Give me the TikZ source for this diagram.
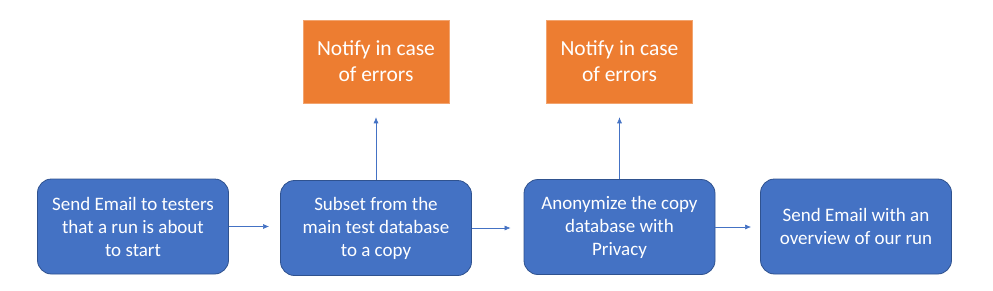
\documentclass[tikz,border=0pt]{standalone}
\usepackage{fontspec}
\setmainfont{Carlito}
\usetikzlibrary{arrows.meta}

\definecolor{stepblue}{HTML}{4472C4}
\definecolor{stepedge}{HTML}{2F528F}
\definecolor{noteorange}{HTML}{ED7D31}

\begin{document}
\begin{tikzpicture}[x=1pt, y=1pt,
  stepbox/.style={draw=stepedge, fill=stepblue, line width=0.8pt, rounded corners=14pt,
    minimum width=191pt, minimum height=95pt, align=center, text=white,
    font=\fontsize{19}{23}\selectfont},
  notebox/.style={fill=noteorange, draw=noteorange!70!white, line width=0.5pt,
    minimum width=146pt, minimum height=83pt, align=center, text=white,
    font=\fontsize{21.5}{26}\selectfont},
  flow/.style={draw=stepblue, line width=0.6pt, -{Latex[length=6pt, width=5pt]}}]
  \useasboundingbox (0, 0) rectangle (993, 290);

  % 四个步骤（下排），坐标按原图像素取
  \node[stepbox] (send)   at (133, 63.5) {Send Email to testers\\that a run is about\\to start};
  \node[stepbox] (subset) at (376, 62)   {Subset from the\\main test database\\to a copy};
  \node[stepbox] (anon)   at (619.5, 63) {Anonymize the copy\\database with\\Privacy};
  \node[stepbox] (report) at (856, 63.5) {Send Email with an\\overview of our run};

  % 出错提示（上排）
  \node[notebox] (errA) at (376, 228.5)   {Notify in case\\of errors};
  \node[notebox] (errB) at (619.5, 228.5) {Notify in case\\of errors};

  \draw[flow, shorten >=11pt] (send.east) -- (send.east -| subset.west);
  \draw[flow, shorten >=13pt] (subset.east) -- (subset.east -| anon.west);
  \draw[flow, shorten >=9pt] (anon.east) -- (anon.east -| report.west);
  \draw[flow, shorten >=14pt] (subset.north) -- (errA.south);
  \draw[flow, shorten >=14pt] (anon.north) -- (errB.south);
\end{tikzpicture}
\end{document}
